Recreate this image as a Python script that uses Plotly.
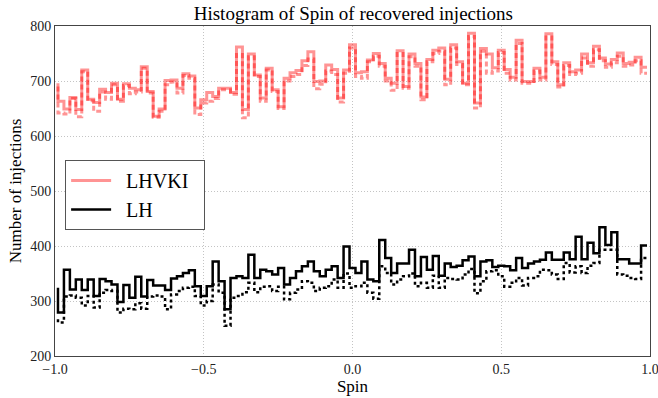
import plotly.graph_objects as go

# Spin bin centres (100 bins of width 0.02 between -1 and 1)
spin_bins = [round(-0.99 + 0.02 * i, 2) for i in range(100)]

# Counts per bin
lhvki_solid = [696,
    663, 649, 670, 648, 720, 667, 661, 685, 679, 696, 667, 695, 687, 684, 726, 681, 636, 649, 701, 702, 687, 713, 709, 651,
    666, 679, 672, 687, 687, 679, 762, 648, 749, 711, 669, 723, 684, 653, 705, 715, 719, 737, 753, 699, 700, 729, 721, 669, 720,
    766, 715, 717, 738, 750, 732, 705, 696, 755, 690, 749, 732, 671, 739, 756, 760, 703, 766, 735, 696, 787, 660, 759, 749,
    724, 756, 721, 707, 774, 699, 699, 723, 707, 786, 735, 693, 733, 717, 720, 749, 733, 763, 742, 731, 739, 751, 732, 734, 743, 725]

lhvki_dashed = [690,
    642, 640, 668, 635, 717, 664, 645, 680, 667, 693, 663, 692, 677, 680, 723, 678, 634, 645, 693, 698, 678, 710, 705, 639,
    660, 663, 668, 684, 684, 676, 748, 633, 744, 708, 663, 720, 681, 650, 700, 708, 712, 728, 740, 686, 694, 718, 712, 662, 714,
    760, 708, 705, 735, 745, 727, 700, 683, 750, 687, 744, 727, 666, 735, 750, 754, 693, 760, 730, 693, 781, 651, 754, 714,
    718, 752, 714, 702, 768, 696, 696, 718, 702, 780, 730, 689, 728, 712, 714, 742, 727, 757, 737, 725, 733, 745, 727, 729, 737, 714]

lh_solid = [324,
    279, 357, 321, 339, 320, 339, 309, 340, 336, 330, 298, 329, 306, 344, 308, 338, 328, 328, 320, 341, 345, 351, 356, 327,
    309, 327, 372, 336, 285, 342, 345, 342, 384, 342, 357, 354, 348, 360, 330, 342, 354, 363, 372, 354, 345, 357, 363, 342, 399,
    360, 351, 372, 339, 336, 411, 378, 351, 368, 368, 393, 345, 380, 357, 382, 346, 368, 362, 364, 374, 381, 345, 372, 374,
    362, 364, 363, 356, 378, 360, 368, 372, 375, 388, 375, 375, 388, 376, 417, 376, 406, 387, 434, 402, 425, 376, 376, 368, 368, 401]

lh_dotted = [267,
    261, 308, 310, 306, 292, 309, 288, 315, 320, 318, 279, 286, 285, 296, 286, 308, 310, 308, 285, 312, 318, 324, 326, 309,
    292, 300, 330, 315, 255, 306, 309, 316, 333, 316, 326, 327, 318, 326, 303, 315, 321, 336, 333, 318, 324, 327, 339, 324, 350,
    324, 327, 333, 315, 304, 363, 351, 330, 339, 345, 350, 327, 333, 324, 346, 324, 342, 340, 339, 348, 358, 314, 336, 354,
    356, 345, 326, 333, 342, 328, 342, 345, 357, 356, 348, 340, 369, 352, 363, 351, 364, 369, 393, 393, 393, 348, 346, 342, 340, 378]

x_ticks = [-1.0, -0.5, 0.0, 0.5, 1.0]
y_ticks = [200, 300, 400, 500, 600, 700, 800]

FONT = "Liberation Serif"
pink = "rgba(255,0,0,0.42)"

fig = go.Figure()
fig.add_trace(go.Scatter(x=spin_bins, y=lhvki_solid, mode="lines", name="\u2002LHVKI\u2002",
                         line=dict(color=pink, width=3, shape="vh")))
fig.add_trace(go.Scatter(x=spin_bins, y=lhvki_dashed, mode="lines", showlegend=False,
                         line=dict(color=pink, width=3, shape="vh", dash="5px,3px")))
fig.add_trace(go.Scatter(x=spin_bins, y=lh_solid, mode="lines", name="\u2002LH",
                         line=dict(color="black", width=2.5, shape="vh")))
fig.add_trace(go.Scatter(x=spin_bins, y=lh_dotted, mode="lines", showlegend=False,
                         line=dict(color="black", width=2.5, shape="vh", dash="3px,3px")))

axis_common = dict(showline=True, linecolor="#444", linewidth=1, mirror=True,
                   showgrid=True, gridcolor="#c4c4c4", griddash="1px,2px", gridwidth=1,
                   zeroline=False, ticks="", ticklabeloverflow="allow",
                   tickfont=dict(family=FONT, size=14, color="#222"))

fig.update_layout(
    width=658, height=398,
    margin=dict(l=55, r=7, t=26, b=37),
    paper_bgcolor="white", plot_bgcolor="white",
    font=dict(family=FONT, color="black"),
    title=dict(text="Histogram of Spin of recovered injections", x=0.537, xanchor="center",
               y=0.967, yanchor="middle", yref="container",
               font=dict(family=FONT, size=19, color="black")),
    xaxis=dict(range=[-1, 1], tickvals=x_ticks, tickformat=".1f", automargin="bottom",
               title=dict(text="Spin", font=dict(family=FONT, size=17), standoff=2), **axis_common),
    yaxis=dict(range=[200, 800], tickvals=y_ticks, automargin=True,
               title=dict(text="Number of injections", font=dict(family=FONT, size=17), standoff=4), **axis_common),
    legend=dict(x=0.017, y=0.594, xanchor="left", yanchor="top",
                bgcolor="white", bordercolor="#555", borderwidth=1,
                font=dict(family=FONT, size=20, color="black"),
                itemwidth=40, tracegroupgap=0),
    showlegend=True,
)

fig.write_html("out.html")
